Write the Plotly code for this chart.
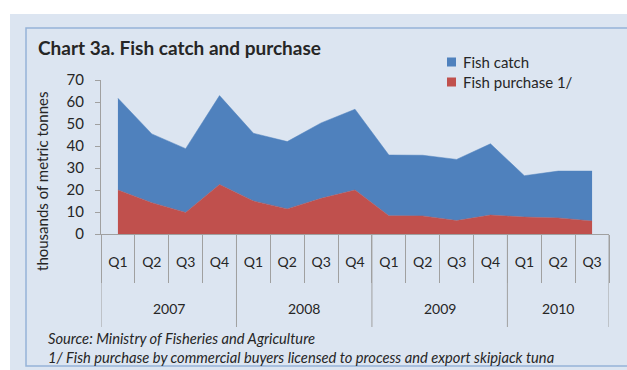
import plotly.graph_objects as go

# ---- data ----
years = ["2007", "2008", "2009", "2010"]
quarters = ["Q1", "Q2", "Q3", "Q4", "Q1", "Q2", "Q3", "Q4",
            "Q1", "Q2", "Q3", "Q4", "Q1", "Q2", "Q3"]
period_year = ["2007"] * 4 + ["2008"] * 4 + ["2009"] * 4 + ["2010"] * 3
fish_purchase = [20.0, 14.2, 9.8, 22.5, 15.0, 11.4, 16.2, 20.0,
                 8.3, 8.2, 6.1, 8.6, 7.7, 7.3, 5.9]
fish_catch = [41.7, 31.3, 29.0, 40.4, 30.8, 30.6, 34.3, 36.7,
              27.6, 27.6, 27.8, 32.4, 18.8, 21.3, 22.7]

categories = [f"{y} {q}" for y, q in zip(period_year, quarters)]

BLUE = "#4F81BD"
RED = "#C0504D"
BG = "#DCE5F1"
FRAME = "#95B3D7"
TXT = "#262626"
AX = "#A0A0A0"
FONT = "Lato"

W, H = 627, 370
L, R, T, B = 101, 18, 80, 136
PW, PH = W - L - R, H - T - B


def px(x):
    return (x - L) / PW


def py(y):
    return (H - B - y) / PH


fig = go.Figure()
fig.add_trace(go.Scatter(x=categories, y=fish_purchase, name="Fish purchase 1/",
                         stackgroup="one", mode="lines",
                         line=dict(width=0.5, color=RED), fillcolor=RED))
fig.add_trace(go.Scatter(x=categories, y=fish_catch, name="Fish catch",
                         stackgroup="one", mode="lines",
                         line=dict(width=0.5, color=BLUE), fillcolor=BLUE))

shapes = [
    # outer light-blue panel
    dict(type="rect", xref="paper", yref="paper", x0=px(10), x1=px(640),
         y0=py(380), y1=py(14), fillcolor=BG, line=dict(width=0), layer="below"),
    # inner frame
    dict(type="rect", xref="paper", yref="paper", x0=px(26), x1=px(640),
         y0=py(366), y1=py(28), fillcolor="rgba(0,0,0,0)",
         line=dict(width=1.5, color=FRAME), layer="below"),
]
# year divider lines
n = len(categories)
bounds = [-0.5]
count = 0
for y in years:
    count += period_year.count(y)
    bounds.append(count - 0.5)
for b in bounds:
    shapes.append(dict(type="line", xref="x", yref="paper", x0=b, x1=b,
                       y0=py(234), y1=py(327), line=dict(color=AX, width=1)))

annotations = [
    dict(text="<b>Chart 3a. Fish catch and purchase</b>", xref="paper", yref="paper",
         x=px(36), y=py(47.5), xanchor="left", yanchor="middle", showarrow=False,
         font=dict(family=FONT, size=19, color=TXT)),
    dict(text="thousands of metric tonnes", xref="paper", yref="paper",
         x=px(42), y=py(182), textangle=-90, xanchor="center", yanchor="middle",
         showarrow=False, font=dict(family=FONT, size=15, color=TXT)),
    dict(text="<i>Source: Ministry of Fisheries and Agriculture</i>", xref="paper",
         yref="paper", x=px(46), y=py(338), xanchor="left", yanchor="middle",
         showarrow=False, font=dict(family=FONT, size=14.7, color=TXT)),
    dict(text="<i>1/ Fish purchase by commercial buyers licensed to process and export skipjack tuna</i>",
         xref="paper", yref="paper", x=px(46), y=py(357), xanchor="left",
         yanchor="middle", showarrow=False, font=dict(family=FONT, size=14.7, color=TXT)),
]
# year labels
for i, y in enumerate(years):
    c = (bounds[i] + bounds[i + 1]) / 2
    annotations.append(dict(text=y, xref="x", yref="paper", x=c, y=py(308),
                            xanchor="center", yanchor="middle", showarrow=False,
                            font=dict(family=FONT, size=14, color=TXT)))

# legend (manual)
for name, col, yc in [("Fish catch", BLUE, 62), ("Fish purchase 1/", RED, 82)]:
    shapes.append(dict(type="rect", xref="paper", yref="paper", x0=px(447), x1=px(456),
                       y0=py(yc + 4.5), y1=py(yc - 4.5), fillcolor=col,
                       line=dict(width=0)))
    annotations.append(dict(text=name, xref="paper", yref="paper", x=px(461), y=py(yc),
                            xanchor="left", yanchor="middle", showarrow=False,
                            font=dict(family=FONT, size=15, color=TXT)))

fig.update_layout(
    width=W, height=H, margin=dict(l=L, r=R, t=T, b=B),
    paper_bgcolor="white", plot_bgcolor="rgba(0,0,0,0)",
    showlegend=False, shapes=shapes, annotations=annotations,
    font=dict(family=FONT, color=TXT, size=14),
    xaxis=dict(type="category", categoryorder="array", categoryarray=categories,
               tickmode="array", tickvals=categories, ticktext=quarters,
               range=[-0.5, n - 0.5], showline=True, linecolor=AX, linewidth=1,
               ticks="outside", tickson="boundaries", ticklen=48, tickcolor=AX,
               tickwidth=1, ticklabelstandoff=15, showgrid=False, zeroline=False,
               tickfont=dict(family=FONT, size=14, color=TXT), fixedrange=True),
    yaxis=dict(range=[0, 70], dtick=10, showline=True, linecolor=AX, linewidth=1,
               ticks="outside", ticklen=5, tickcolor=AX, showgrid=False,
               zeroline=False, ticklabelstandoff=8,
               tickfont=dict(family=FONT, size=15, color=TXT), fixedrange=True),
)

fig.write_html("out.html")
